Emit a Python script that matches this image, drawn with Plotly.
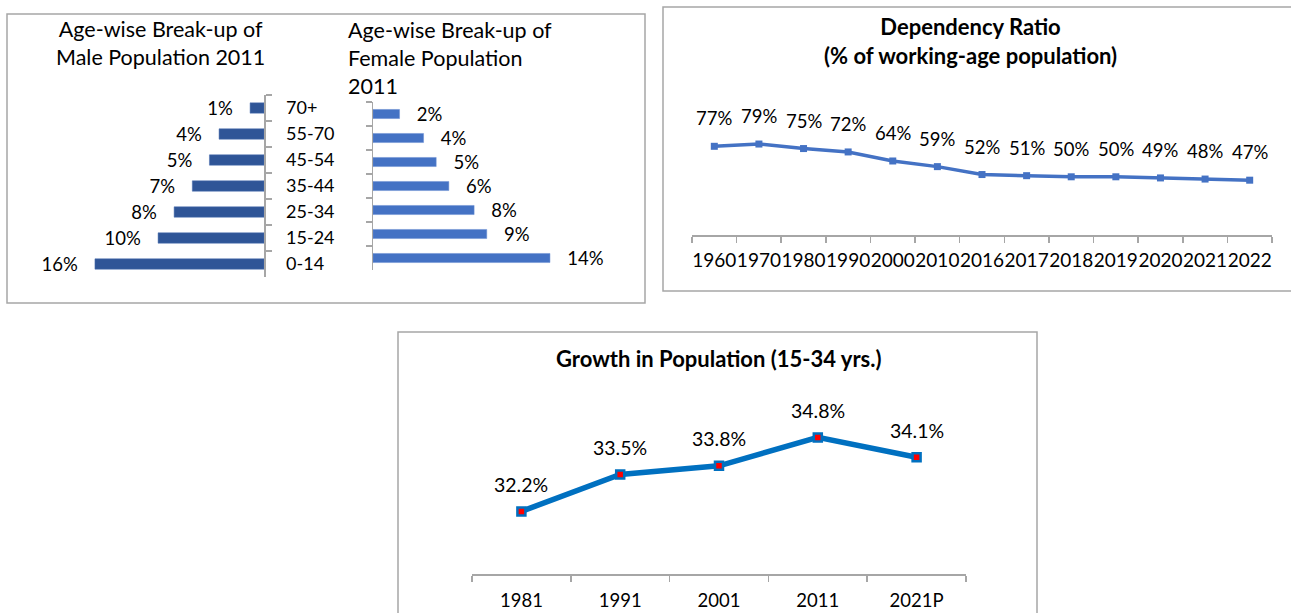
import plotly.graph_objects as go

# ---------------- data ----------------
age_groups = ["70+", "55-70", "45-54", "35-44", "25-34", "15-24", "0-14"]
male_pct = [1.3, 4.2, 5.1, 6.7, 8.4, 9.9, 15.8]
female_pct = [2.1, 4.0, 5.0, 6.0, 8.0, 9.0, 14.0]

dep_years = ["1960", "1970", "1980", "1990", "2000", "2010", "2016",
             "2017", "2018", "2019", "2020", "2021", "2022"]
dep_ratio = [77, 79, 75, 72, 64, 59, 52, 51, 50, 50, 49, 48, 47]

growth_years = ["1981", "1991", "2001", "2011", "2021P"]
growth_pct = [32.2, 33.5, 33.8, 34.8, 34.1]

# ---------------- helpers ----------------
W, H = 1291, 613
FONT = "Lato"
TXT = "#000000"
GRID = "#A6A6A6"
SP = "\u00a0\u00a0\u00a0"


def px(x):
    return x / W


def py(y):
    return 1 - y / H


fig = go.Figure()

# Male bars (left, reversed)
fig.add_trace(go.Bar(
    x=male_pct, y=age_groups, orientation="h",
    marker=dict(color="#2F5597", line=dict(color="#4A6FB0", width=0.5)),
    width=0.4, texttemplate="%{x:.0f}%" + SP, textposition="outside", constraintext="none",
    textfont=dict(family=FONT, size=18.5, color=TXT), cliponaxis=False,
    xaxis="x", yaxis="y", showlegend=False, hoverinfo="skip"))

# Female bars (right)
fig.add_trace(go.Bar(
    x=female_pct, y=age_groups, orientation="h",
    marker=dict(color="#4472C4", line=dict(color="#6A8FD3", width=0.5)),
    width=0.38, texttemplate=SP + "%{x:.0f}%", textposition="outside", constraintext="none",
    textfont=dict(family=FONT, size=18.5, color=TXT), cliponaxis=False,
    xaxis="x2", yaxis="y2", showlegend=False, hoverinfo="skip"))

# Dependency ratio line
fig.add_trace(go.Scatter(
    x=dep_years, y=dep_ratio, mode="lines+markers",
    line=dict(color="#4472C4", width=3.5),
    marker=dict(symbol="square", size=7, color="#4472C4"),
    xaxis="x3", yaxis="y3", showlegend=False, hoverinfo="skip", cliponaxis=False))

# Growth line
fig.add_trace(go.Scatter(
    x=growth_years, y=growth_pct, mode="lines+markers",
    line=dict(color="#0070C0", width=5.5),
    marker=dict(symbol="square", size=8, color="#FF0000",
                line=dict(color="#0070C0", width=2.5)),
    xaxis="x4", yaxis="y4", showlegend=False, hoverinfo="skip", cliponaxis=False))

annotations = []
for i, v in enumerate(dep_ratio):
    annotations.append(dict(x=i, y=v, xref="x3", yref="y3", text=f"{v}%",
                            showarrow=False, yshift=28,
                            font=dict(family=FONT, size=18.5, color=TXT)))
for i, v in enumerate(growth_pct):
    annotations.append(dict(x=i, y=v, xref="x4", yref="y4", text=f"{v:.1f}%",
                            showarrow=False, yshift=27,
                            font=dict(family=FONT, size=19.5, color=TXT)))

# Titles
annotations += [
    dict(x=px(160), y=py(43), xref="paper", yref="paper",
         text="Age-wise Break-up of<br>Male Population 2011", showarrow=False,
         align="center", xanchor="center", yanchor="middle",
         font=dict(family=FONT, size=21.5, color=TXT)),
    dict(x=px(346), y=py(58), xref="paper", yref="paper",
         text="Age-wise Break-up of<br>Female Population<br>2011", showarrow=False,
         align="left", xanchor="left", yanchor="middle",
         font=dict(family=FONT, size=21.5, color=TXT)),
    dict(x=px(970), y=py(41), xref="paper", yref="paper",
         text="<b>Dependency Ratio<br>(% of working-age population)</b>", showarrow=False,
         align="center", xanchor="center", yanchor="middle",
         font=dict(family=FONT, size=22, color=TXT)),
    dict(x=px(719), y=py(358), xref="paper", yref="paper",
         text="<b>Growth in Population (15-34 yrs.)</b>", showarrow=False,
         align="center", xanchor="center", yanchor="middle",
         font=dict(family=FONT, size=22, color=TXT)),
]

shapes = [
    dict(type="rect", xref="paper", yref="paper", x0=px(7), y0=py(303), x1=px(645), y1=py(14),
         line=dict(color=GRID, width=1.5)),
    dict(type="rect", xref="paper", yref="paper", x0=px(663), y0=py(291), x1=px(1300), y1=py(7),
         line=dict(color=GRID, width=1.5)),
    dict(type="rect", xref="paper", yref="paper", x0=px(398), y0=py(625), x1=px(1037), y1=py(332),
         line=dict(color=GRID, width=1.5)),
]

male_scale = 10.7
fem_scale = 12.64
dep_scale = 1.13
gr_scale = 28.46

cat_axis = dict(type="category", showline=True, linecolor=GRID, linewidth=1.5,
                ticks="outside", tickson="boundaries", ticklen=6, tickcolor=GRID,
                tickwidth=1.5, showgrid=False, zeroline=False, fixedrange=True)

fig.update_layout(
    width=W, height=H, margin=dict(l=0, r=0, t=0, b=0),
    paper_bgcolor="white", plot_bgcolor="rgba(0,0,0,0)",
    font=dict(family=FONT, color=TXT),
    showlegend=False,
    xaxis=dict(domain=[px(30), px(264)], range=[(264 - 30) / male_scale, 0],
               visible=False, anchor="y", fixedrange=True),
    yaxis=dict(**cat_axis, domain=[py(277), py(95)], range=[6.5, -0.5], side="right",
               anchor="x", showticklabels=True, ticklabelstandoff=17,
               tickfont=dict(family=FONT, size=18, color=TXT)),
    xaxis2=dict(domain=[px(373), px(640)], range=[0, (640 - 373) / fem_scale],
                visible=False, anchor="y2", fixedrange=True),
    yaxis2=dict(**cat_axis, domain=[py(270), py(102)], range=[6.5, -0.5], side="left",
                anchor="x2", showticklabels=False),
    xaxis3=dict(**cat_axis, domain=[px(692), px(1272)], anchor="y3",
                range=[-0.5, len(dep_years) - 0.5], tickangle=0,
                tickfont=dict(family=FONT, size=19, color=TXT), ticklabelstandoff=8),
    yaxis3=dict(domain=[py(235), py(122)], range=[-1.5, (235 - 122) / dep_scale - 1.5],
                visible=False, anchor="x3", fixedrange=True),
    xaxis4=dict(**cat_axis, domain=[px(472), px(966)], anchor="y4",
                range=[-0.5, len(growth_years) - 0.5], tickangle=0,
                tickfont=dict(family=FONT, size=18.5, color=TXT), ticklabelstandoff=9),
    yaxis4=dict(domain=[py(574), py(403)], range=[30, 30 + (574 - 403) / gr_scale],
                visible=False, anchor="x4", fixedrange=True),
    annotations=annotations,
    shapes=shapes,
)

fig.write_html("out.html", config={"displayModeBar": False, "staticPlot": True},
               post_script="document.body.style.margin='0';document.body.style.overflow='hidden';")
